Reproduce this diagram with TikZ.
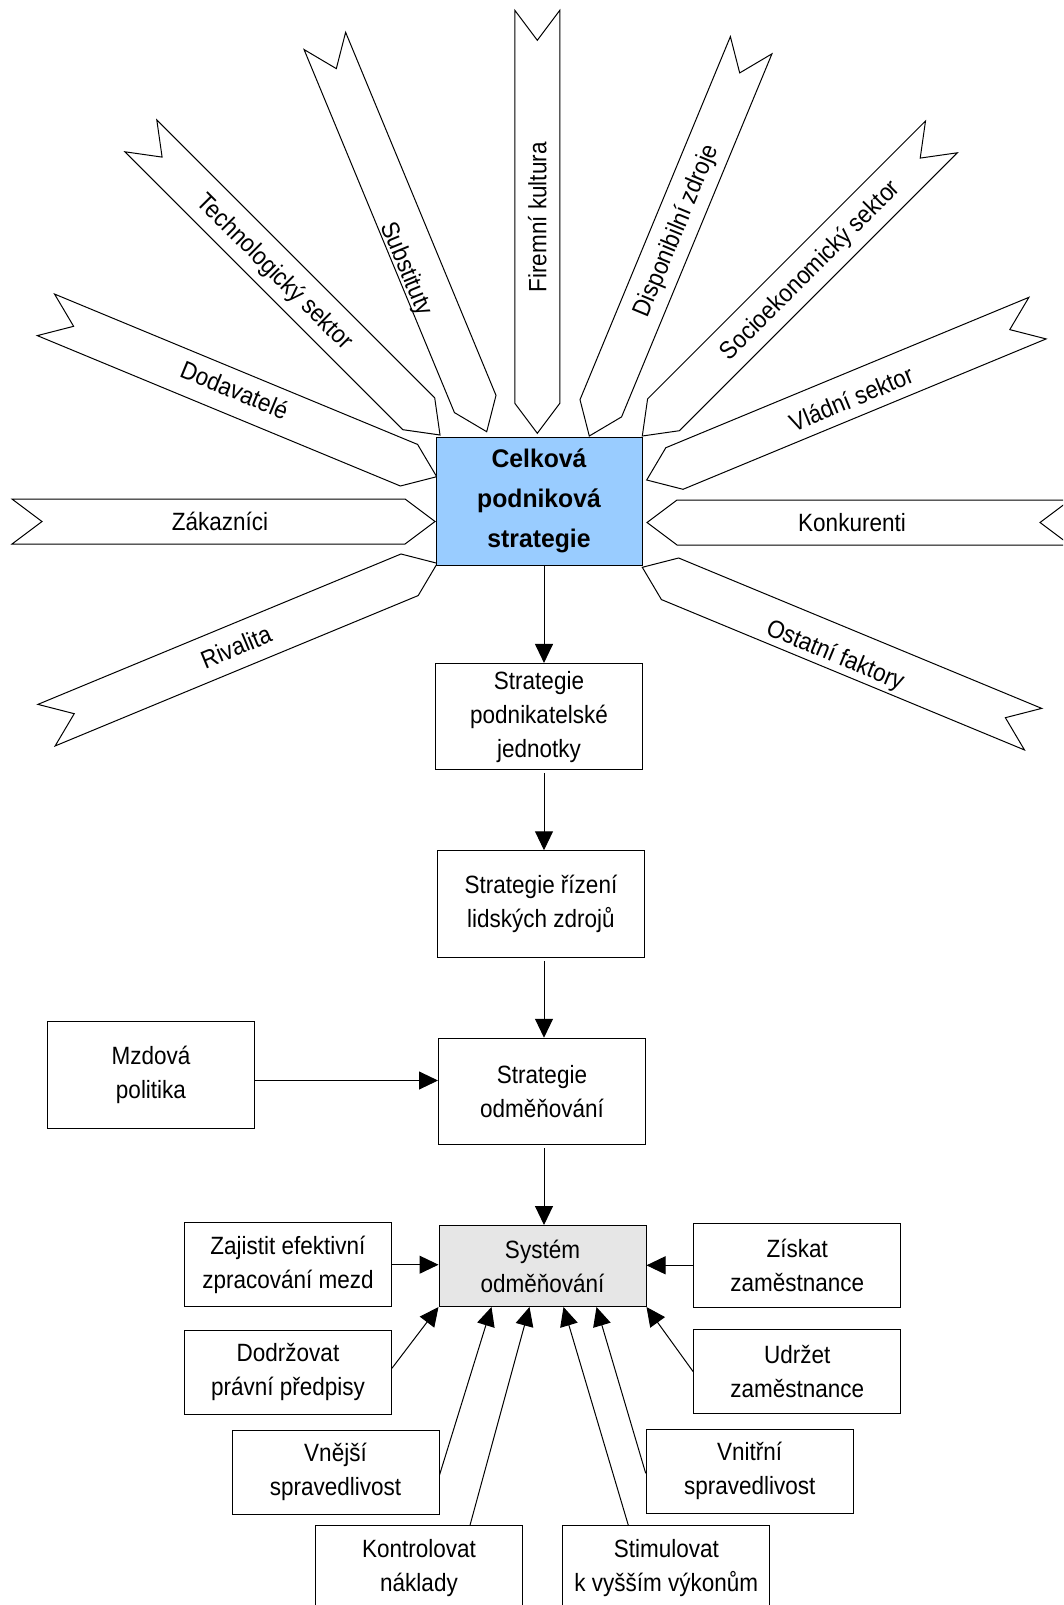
\documentclass[tikz,border=0pt]{standalone}
\usepackage{fontspec}
\setmainfont{Liberation Sans}[FakeStretch=0.9]
\newfontfamily\headfont{Liberation Sans}[FakeStretch=0.97]
\usetikzlibrary{arrows.meta}
\definecolor{headblue}{HTML}{99CCFF}
\definecolor{sysgray}{HTML}{E6E6E6}

\tikzset{
  box/.style={draw=black, line width=1pt, fill=white, minimum width=207pt,
    minimum height=84pt, align=center, inner sep=0pt,
    font=\fontsize{25pt}{34pt}\selectfont},
  tallbox/.style={box, minimum height=106.5pt},
  arr/.style={line width=1pt, -{Triangle[length=19pt,width=18pt]}},
  ribbonline/.style={draw=black, line width=1pt, fill=white, line join=miter},
  ribbontext/.style={inner sep=0pt, text height=18pt, text depth=0pt,
    font=\fontsize{25pt}{30pt}\selectfont},
}

% A ribbon pointing at the central box:
% #1 name, #2 tip, #3 direction from tip to tail, #4 label rotation,
% #5 label position in the ribbon's own frame, #6 label
\newcommand\ribbon[6]{%
  \begin{scope}[shift={(#2)}, rotate=#3]
    \draw[ribbonline] (0,0) -- (30,22.5) -- (423,22.5) -- (393,0)
      -- (423,-22.5) -- (30,-22.5) -- cycle;
    \node[ribbontext, rotate=#4] (#1) at (#5) {#6};
  \end{scope}}

\begin{document}
\begin{tikzpicture}[x=1pt, y=1pt]
\useasboundingbox (0,0) rectangle (1063,-1605);
\fill[white] (0,0) rectangle (1063,-1605);
\clip (0,0) rectangle (1063,-1605);

% influences around the overall strategy
\ribbon{zak}{435,-521.5}{180}{0}{215,0}{Zákazníci}
\ribbon{dod}{436.7,-476.7}{157.5}{-22.5}{220,-3}{Dodavatelé}
\ribbon{tech}{440,-435}{135}{-45}{232,0}{Technologický sektor}
\ribbon{subst}{486.7,-431.7}{112.5}{-67.5}{181,10}{Substituty}
\ribbon{firm}{537.3,-433.3}{90}{90}{216,0}{Firemní kultura}
\ribbon{disp}{589.3,-436}{67.5}{67.5}{223,0}{Disponibilní zdroje}
\ribbon{socio}{642.3,-436}{45}{45}{236,0}{Socioekonomický sektor}
\ribbon{vlad}{646.7,-480}{22.5}{22.5}{220,-3}{Vládní sektor}
\ribbon{konk}{647,-522.5}{0}{0}{205,0}{Konkurenti}
\ribbon{ost}{642.3,-567.3}{-22.5}{-22.5}{212,-6}{Ostatní faktory}
\ribbon{riv}{437.3,-563.3}{202.5}{22.5}{218,0}{Rivalita}

% central box
\node[draw=black, line width=1pt, fill=headblue, minimum width=206pt,
  minimum height=128pt, align=center, inner sep=0pt,
  font=\headfont\bfseries\fontsize{25.5pt}{40pt}\selectfont]
  (cel) at (539,-501) {Celková\\podniková\\strategie};

% strategy chain
\node[tallbox] (podnik) at (539,-716.7) {Strategie\\podnikatelské\\jednotky};
\node[tallbox] (rizeni) at (541,-904) {Strategie řízení\\lidských zdrojů};
\node[tallbox] (mzdova) at (151,-1075) {Mzdová\\politika};
\node[tallbox] (odmen) at (542,-1091.5) {Strategie\\odměňování};
\node[box, fill=sysgray, minimum height=81pt] (system) at (542.5,-1266) {Systém\\odměňování};

% goals of the reward system
\node[box] (zajistit) at (288,-1264.7) {Zajistit efektivní\\zpracování mezd};
\node[box] (ziskat) at (797.2,-1265.3) {Získat\\zaměstnance};
\node[box] (dodrzovat) at (288,-1372.2) {Dodržovat\\právní předpisy};
\node[box] (udrzet) at (797.2,-1371.7) {Udržet\\zaměstnance};
\node[box] (vnejsi) at (335.5,-1472) {Vnější\\spravedlivost};
\node[box] (vnitrni) at (749.7,-1471.3) {Vnitřní\\spravedlivost};
\node[box] (kontrol) at (419,-1567.7) {Kontrolovat\\náklady};
\node[box] (stimul) at (666.3,-1567.7) {Stimulovat\\k vyšším výkonům};

% connectors
\coordinate (ax) at (544,0);
\coordinate (my) at (0,-1080.5);
\draw[arr] (cel.south -| ax) -- (podnik.north -| ax);
\draw[arr, shorten <=3pt] (podnik.south -| ax) -- (rizeni.north -| ax);
\draw[arr, shorten <=3pt] (rizeni.south -| ax) -- (odmen.north -| ax);
\draw[arr, shorten <=3pt] (odmen.south -| ax) -- (system.north -| ax);
\draw[arr] (mzdova.east |- my) -- (odmen.west |- my);

\draw[arr] (zajistit.east) -- (system.west |- zajistit.east);
\draw[arr] (ziskat.west) -- (system.east |- ziskat.west);
\draw[arr] ([yshift=4pt]dodrzovat.east) -- (system.south west);
\draw[arr] ([yshift=-3pt]vnejsi.east) -- ([xshift=53pt]system.south west);
\draw[arr] ([xshift=51pt]kontrol.north) -- ([xshift=91pt]system.south west);
\draw[arr] ([xshift=-38pt]stimul.north) -- ([xshift=125pt]system.south west);
\draw[arr] ([yshift=-2pt]vnitrni.west) -- ([xshift=158pt]system.south west);
\draw[arr] (udrzet.west) -- (system.south east);
\end{tikzpicture}
\end{document}
